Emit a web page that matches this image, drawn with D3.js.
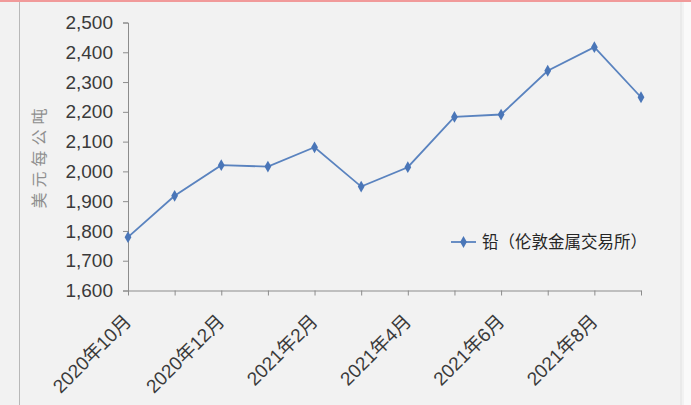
<!DOCTYPE html>
<html><head><meta charset="utf-8">
<script src="https://cdn.jsdelivr.net/npm/d3@7"></script>
<style>body{margin:0;background:#fff;}svg{display:block;}</style>
</head><body>
<svg id="c" width="691" height="405"></svg>
<script>
const categories = ["2020年10月","2020年11月","2020年12月","2021年1月","2021年2月","2021年3月","2021年4月","2021年5月","2021年6月","2021年7月","2021年8月","2021年9月"];
const values = [1779, 1918, 2021, 2016, 2081, 1949, 2014, 2183, 2191, 2338, 2417, 2249];
const yTicks = [1600,1700,1800,1900,2000,2100,2200,2300,2400,2500];
const labelShown = ["2020年10月","2020年12月","2021年2月","2021年4月","2021年6月","2021年8月"];
const seriesName = "铅（伦敦金属交易所）";
const yTitle = "美元每公吨";

const svg = d3.select("#c");
const font = "'Liberation Sans','Noto Sans CJK SC',sans-serif";
svg.append("rect").attr("x",0).attr("y",0).attr("width",691).attr("height",405).attr("fill","#f2f2f2");
svg.append("rect").attr("x",684).attr("y",0).attr("width",7).attr("height",405).attr("fill","#fafafa");
svg.append("line").attr("x1",681).attr("x2",681).attr("y1",0).attr("y2",405).attr("stroke","#e2e2e2");
svg.append("line").attr("x1",19.5).attr("x2",19.5).attr("y1",0).attr("y2",405).attr("stroke","#b8b8b8");
svg.append("rect").attr("x",0).attr("y",0).attr("width",691).attr("height",2).attr("fill","#f19a9a");

const x = d3.scalePoint().domain(categories).range([128,641]);
const y = d3.scaleLinear().domain([1600,2500]).range([290.5,22.5]);

const ya = svg.append("g").attr("transform","translate(128,0)")
  .call(d3.axisLeft(y).tickValues(yTicks).tickFormat(d3.format(",")).tickSizeOuter(0).tickSize(5).tickPadding(10));
ya.select(".domain").attr("stroke","#8c8c8c");
ya.selectAll(".tick line").attr("stroke","#8c8c8c");
ya.selectAll("text").attr("font-family",font).attr("font-size",19).attr("fill","#3a3a3a");

const xa = svg.append("g").attr("transform","translate(0,290.5)")
  .call(d3.axisBottom(x).tickSize(5).tickSizeOuter(0).tickFormat(d => labelShown.includes(d) ? d : ""));
xa.select(".domain").attr("stroke","#8c8c8c");
xa.selectAll(".tick line").attr("stroke","#8c8c8c");
xa.selectAll("text").attr("font-family",font).attr("font-size",19).attr("fill","#3a3a3a")
  .attr("text-anchor","end").attr("dy",0).attr("y",0)
  .attr("transform","translate(4,32) rotate(-45)");

svg.append("text").attr("font-family","'Noto Sans CJK SC',sans-serif").attr("font-size",16).attr("fill","#8f8f8f")
  .attr("letter-spacing",5)
  .attr("transform","translate(45,156) rotate(-90)").attr("text-anchor","middle").text(yTitle);

const line = d3.line().x((d,i)=>x(categories[i])).y(d=>y(d));
svg.append("path").datum(values).attr("d",line).attr("fill","none").attr("stroke","#5a83bf").attr("stroke-width",1.8);
const diamond = d3.symbol().type(d3.symbolDiamond).size(40);
svg.selectAll(".m").data(values).join("path").attr("class","m").attr("d",diamond)
  .attr("transform",(d,i)=>`translate(${x(categories[i])},${y(d)})`).attr("fill","#4a76b8");

const lg = svg.append("g");
lg.append("line").attr("x1",451).attr("x2",476).attr("y1",242).attr("y2",242).attr("stroke","#5a83bf").attr("stroke-width",1.8);
lg.append("path").attr("d",diamond).attr("transform","translate(463.5,242)").attr("fill","#4a76b8");
lg.append("text").attr("x",482).attr("y",248).attr("font-family","'Noto Sans CJK SC',sans-serif").attr("font-size",16.5).attr("fill","#262626").text(seriesName);
</script>
</body></html>
